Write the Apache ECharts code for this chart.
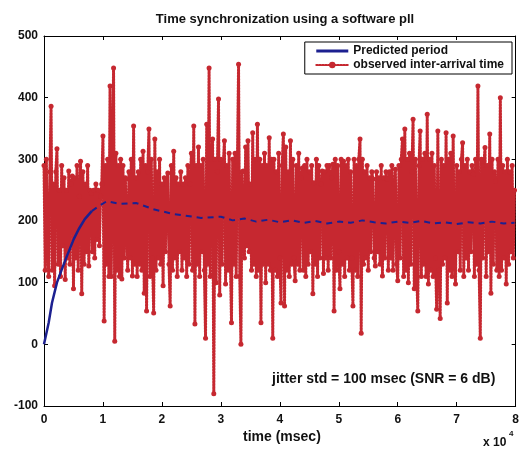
<!DOCTYPE html>
<html>
<head>
<meta charset="utf-8">
<script src="https://cdn.jsdelivr.net/npm/echarts@6/dist/echarts.min.js"></script>
<style>
html,body{margin:0;padding:0;background:#fff;}
#c{width:522px;height:451px;}
</style>
</head>
<body>
<div id="c"></div>
<script>
// Observed inter-arrival times (msec), one sample every 200 msec of time
const observed = [
290,120,300,150,110,280,386,120,260,95,280,317,130,250,110,290,160,270,105,250,
140,281,130,260,273,90,270,140,290,120,240,297,82,280,130,260,150,290,127,250,
245,150,250,140,260,170,250,160,240,260,338,38,290,130,300,110,419,110,300,448,
5,310,120,290,110,300,106,290,140,270,268,120,280,140,300,111,354,130,270,110,
280,130,300,120,313,83,290,54,280,349,110,300,140,51,333,120,280,140,300,130,
260,95,270,150,260,278,130,62,290,120,313,140,270,110,260,150,280,120,260,140,
270,110,290,130,260,310,120,354,33,290,130,320,110,290,150,300,120,10,357,130,
448,110,300,333,-80,300,100,280,398,80,300,130,290,330,98,290,120,310,140,35,
300,130,310,110,290,454,110,0,280,281,140,320,160,330,150,260,120,343,130,300,
110,357,120,300,35,290,130,310,100,290,130,335,120,300,10,300,120,280,110,310,
140,67,290,341,62,320,120,280,110,330,130,300,140,103,290,130,310,120,270,286,
120,290,110,300,130,280,150,290,82,262,130,300,110,290,140,260,281,115,280,140,
290,120,290,140,270,292,54,300,120,290,150,90,300,130,297,110,290,140,300,120,
280,140,62,300,120,290,110,300,333,18,300,130,280,140,290,120,270,150,280,268,
140,127,280,150,270,130,290,111,270,140,280,268,120,280,140,290,120,260,284,130,
103,290,140,300,333,110,349,120,300,100,310,130,280,365,90,300,120,54,290,346,
110,300,130,310,110,373,98,300,120,310,110,290,140,57,346,120,42,300,130,290,
140,343,67,300,120,310,110,338,140,98,290,150,280,120,300,327,110,290,140,300,
120,280,150,290,276,110,300,130,419,120,10,300,140,290,319,110,290,150,341,83,
300,130,280,265,120,300,110,400,120,290,140,280,98,300,130,280,150,290,140,250
];
const sampleStep = 200; // msec between samples
const observedTimes = observed.map((_, i) => i * sampleStep);

// Predicted period (msec) from the software PLL
const predictedTimes = [0,793,1350,2194,3038,3882,5063,5907,6920,8101,9283,10633,12658,15696,18565,22110,26667,30000,32000,34000,36000,38000,40000,42000,44000,46000,48000,50000,52000,54000,56000,58000,60000,62000,64000,66000,68000,70000,72000,74000,76000,78000,79800];
const predicted = [0,35,67,100,122,143,171,187,203,216,224,232,228,229,219,211,205,207,201,204,199,202,198,201,197,200,196,199,197,201,198,196,199,197,200,196,198,195,198,196,199,196,197];
const visibleRiseCount = 10; // points of the initial rise that show unobscured

const xTicks = [0,1,2,3,4,5,6,7,8];
const yTicks = [-100,0,100,200,300,400,500];

const titleText = 'Time synchronization using a software pll';
const xLabel = 'time (msec)';
const noteText = 'jitter std = 100 msec (SNR = 6 dB)';
const legendNames = ['Predicted period', 'observed inter-arrival time'];

const FONT = 'Liberation Sans, Arial, sans-serif';
const RED = '#c62830';
const BLUE = '#1c2090';
const chart = echarts.init(document.getElementById('c'), null, {renderer: 'canvas'});

const tickCommon = {show: true, inside: true, length: 4, lineStyle: {color: '#000', width: 1}};
const lineCommon = {show: true, onZero: false, lineStyle: {color: '#000', width: 1}};
const predPairs = predictedTimes.map((t, i) => [t, predicted[i]]);

chart.setOption({
  animation: false,
  backgroundColor: '#fff',
  title: {
    text: titleText, left: 280, top: 8, textAlign: 'center',
    textStyle: {fontFamily: FONT, fontSize: 13, fontWeight: 'bold', color: '#111'}
  },
  grid: {left: 44, right: 4, top: 36, bottom: 45, containLabel: false},
  legend: {
    data: [
      {name: legendNames[0], itemStyle: {opacity: 0}, lineStyle: {color: BLUE, width: 3, type: 'solid'}},
      {name: legendNames[1], lineStyle: {color: RED, width: 2, type: [1.5, 1.5]}}
    ],
    orient: 'vertical', right: 10, top: 42,
    backgroundColor: '#fff', borderColor: '#000', borderWidth: 1,
    padding: [3, 8, 3, 10], itemGap: 2, itemWidth: 32, itemHeight: 8,
    textStyle: {fontFamily: FONT, fontSize: 12, fontWeight: 'bold', color: '#111'}
  },
  xAxis: [
    {type: 'value', position: 'bottom', min: 0, max: 80000, interval: 10000,
     axisLine: lineCommon, axisTick: tickCommon, splitLine: {show: false},
     axisLabel: {margin: 8, fontFamily: FONT, fontSize: 12, fontWeight: 'bold', color: '#111',
       formatter: v => String(xTicks[Math.round(v / 10000)])}},
    {type: 'value', position: 'top', min: 0, max: 80000, interval: 10000,
     axisLine: lineCommon, axisTick: tickCommon, splitLine: {show: false}, axisLabel: {show: false}}
  ],
  yAxis: [
    {type: 'value', position: 'left', min: -100, max: 500, interval: 100,
     axisLine: lineCommon, axisTick: tickCommon, splitLine: {show: false},
     axisLabel: {margin: 6, fontFamily: FONT, fontSize: 12, fontWeight: 'bold', color: '#111',
       formatter: v => String(yTicks[Math.round((v + 100) / 100)])}},
    {type: 'value', position: 'right', min: -100, max: 500, interval: 100,
     axisLine: lineCommon, axisTick: tickCommon, splitLine: {show: false}, axisLabel: {show: false}}
  ],
  series: [
    {
      name: legendNames[1], type: 'line', xAxisIndex: 0, yAxisIndex: 0,
      data: observedTimes.map((t, i) => [t, observed[i]]),
      symbol: 'circle', symbolSize: 5, showSymbol: true, showAllSymbol: true,
      lineStyle: {color: RED, width: 3, type: [1.5, 1.5], cap: 'round'},
      itemStyle: {color: RED},
      z: 2
    },
    {
      name: legendNames[0], type: 'line', xAxisIndex: 0, yAxisIndex: 0,
      data: predPairs.slice(0, visibleRiseCount),
      symbol: 'none', lineStyle: {color: BLUE, width: 2.5}, itemStyle: {color: BLUE},
      z: 3
    },
    {
      name: legendNames[0], type: 'line', xAxisIndex: 0, yAxisIndex: 0,
      data: predPairs.slice(visibleRiseCount - 1),
      symbol: 'none', lineStyle: {color: BLUE, width: 2, type: [6, 5]}, itemStyle: {color: BLUE},
      z: 3
    }
  ],
  graphic: [
    {type: 'text', left: 272, top: 372, style: {text: noteText, font: 'bold 14px ' + FONT, fill: '#111'}},
    {type: 'text', left: 243, top: 430, style: {text: xLabel, font: 'bold 14px ' + FONT, fill: '#111'}},
    {type: 'text', left: 483, top: 437, style: {text: 'x 10', font: 'bold 12px ' + FONT, fill: '#111'}},
    {type: 'text', left: 509, top: 430, style: {text: '4', font: 'bold 8px ' + FONT, fill: '#111'}}
  ]
});
</script>
</body>
</html>
